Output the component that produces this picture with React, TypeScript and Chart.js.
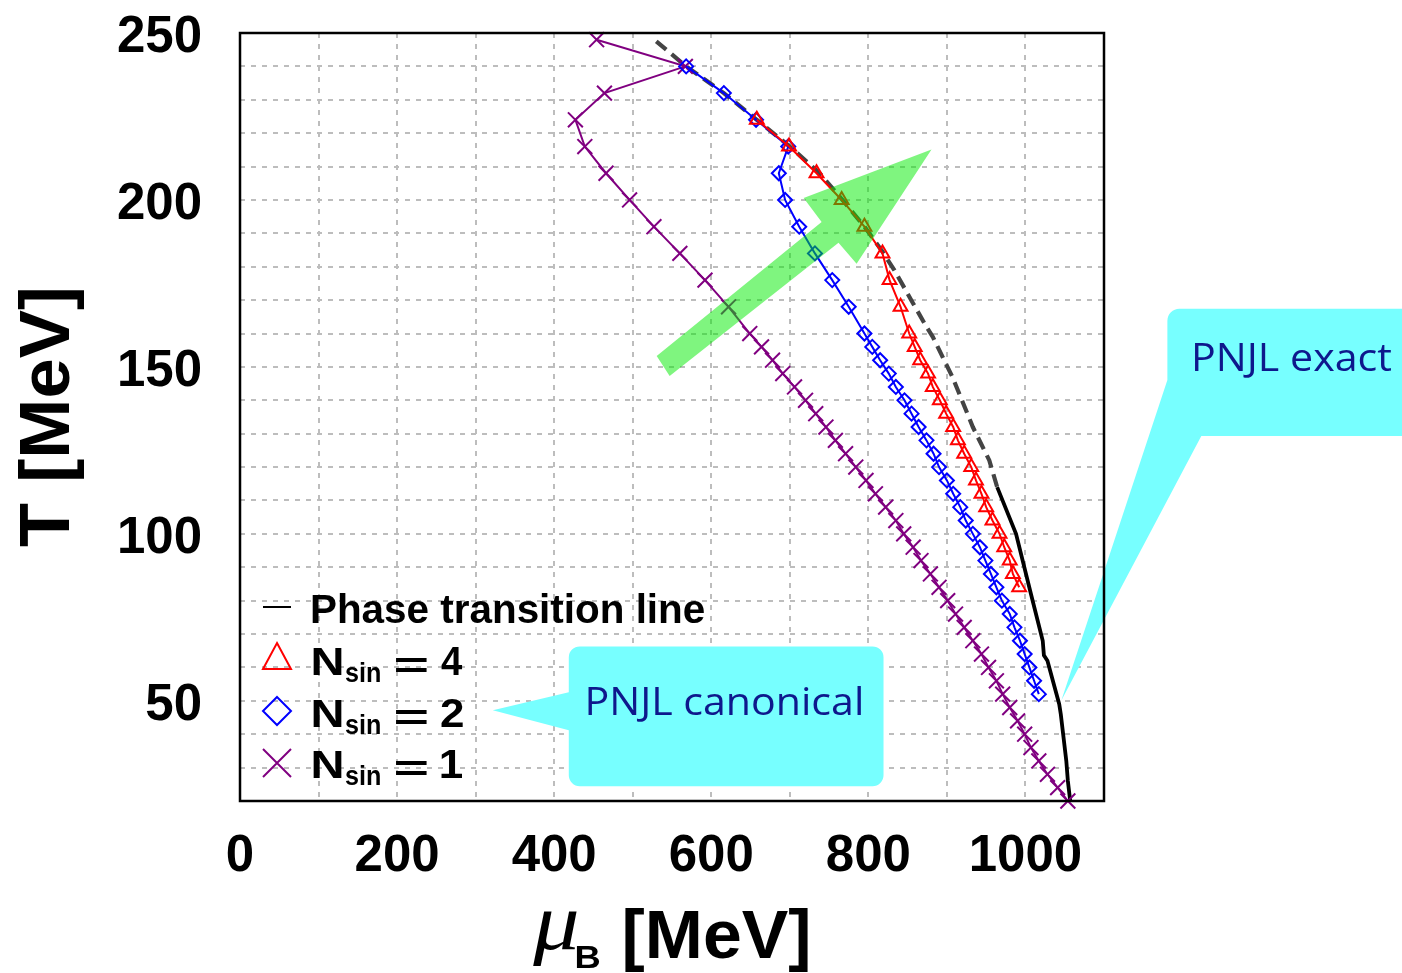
import React, { useEffect, useRef } from "react";
import { Chart, registerables } from "chart.js";
Chart.register(...registerables);

// ---------------- data ----------------
const nsin1T = [248, 240, 232, 224, 216, 208, 200, 192, 184, 176, 168, 160, 156, 152, 148, 144, 140, 136, 132, 128, 124, 120, 116, 112, 108, 104, 100, 96, 92, 88, 84, 80, 76, 72, 68, 64, 60, 56, 52, 48, 44, 40, 36, 32, 28, 24, 20];
const nsin1Mu = [454, 567, 464, 427, 439, 466, 496, 527, 560, 592, 622, 649, 664, 678, 691, 706, 720, 733, 746, 758, 771, 784, 797, 809, 822, 835, 845, 857, 867, 879, 890, 901, 911, 922, 933, 944, 953, 963, 971, 980, 990, 999, 1007, 1017, 1028, 1041, 1054];

const nsin2T = [240, 232, 224, 216, 208, 200, 192, 184, 176, 168, 160, 156, 152, 148, 144, 140, 136, 132, 128, 124, 120, 116, 112, 108, 104, 100, 96, 92, 88, 84, 80, 76, 72, 68, 64, 60, 56, 52];
const nsin2Mu = [568, 616, 657, 698, 686, 694, 712, 732, 754, 775, 795, 805, 815, 826, 835, 846, 855, 864, 874, 883, 890, 900, 908, 917, 924, 933, 942, 949, 956, 963, 970, 980, 986, 993, 999, 1005, 1011, 1017];

const nsin4T = [224, 216, 208, 200, 192, 184, 176, 168, 160, 156, 152, 148, 144, 140, 136, 132, 128, 124, 120, 116, 112, 108, 104, 100, 96, 92, 88, 84];
const nsin4Mu = [658, 699, 734, 766, 795, 818, 827, 841, 852, 859, 866, 876, 882, 891, 899, 908, 914, 922, 931, 937, 944, 950, 958, 967, 973, 980, 984, 992];

const phaseDashT = [247.5, 240, 232, 224, 216, 208, 200, 192, 184.5, 179, 169, 162, 159, 147, 132, 122, 114];
const phaseDashMu = [530, 568, 616, 658, 700, 738, 767, 795, 818, 833, 857, 874, 882, 907, 933, 954, 964];

const phaseSolidT = [114, 100, 82, 68, 63.6, 62, 49, 46, 40, 32, 26, 20];
const phaseSolidMu = [964, 988, 1007, 1022, 1023.5, 1028, 1043, 1045, 1048, 1052, 1054, 1057];

const xLabeledTicks = [0, 200, 400, 600, 800, 1000];
const yLabeledTicks = [50, 100, 150, 200, 250];

const legendMain = "Phase transition line";
const legendNsin = ["4", "2", "1"];
const calloutCanonical = "PNJL canonical";
const calloutExact = "PNJL exact";

// annotation geometry in data coordinates (mu_B, T)
const arrowMu = [530.5, 740.5, 717.6, 880.4, 785, 762, 547];
const arrowT = [153.3, 193.4, 200.6, 215.1, 180.9, 187.2, 147.3];

const SANS = '"Liberation Sans", Arial, sans-serif';
const CYAN = "#77ffff";
const NAVY = "rgb(14,24,140)";

function pts(mu: number[], t: number[]) {
  return mu.map((m, i) => ({ x: m, y: t[i] }));
}

function fitWidth(ctx: CanvasRenderingContext2D, text: string, font: string, left: number, right: number, baseline: number) {
  ctx.save();
  ctx.font = font;
  ctx.textAlign = "left";
  ctx.textBaseline = "alphabetic";
  const m = ctx.measureText(text);
  const vis = m.actualBoundingBoxLeft + m.actualBoundingBoxRight;
  const s = (right - left) / vis;
  ctx.translate(left + m.actualBoundingBoxLeft * s, baseline);
  ctx.scale(s, 1);
  ctx.fillText(text, 0, 0);
  ctx.restore();
}

function fitBox(ctx: CanvasRenderingContext2D, text: string, font: string, left: number, top: number, right: number, bottom: number) {
  ctx.save();
  ctx.font = font;
  ctx.textAlign = "left";
  ctx.textBaseline = "alphabetic";
  const m = ctx.measureText(text);
  const w = m.actualBoundingBoxLeft + m.actualBoundingBoxRight;
  const h = m.actualBoundingBoxAscent + m.actualBoundingBoxDescent;
  const sx = (right - left) / w;
  const sy = (bottom - top) / h;
  ctx.translate(left + m.actualBoundingBoxLeft * sx, top + m.actualBoundingBoxAscent * sy);
  ctx.scale(sx, sy);
  ctx.fillText(text, 0, 0);
  ctx.restore();
}

const annotations = {
  id: "annotations",
  afterDatasetsDraw(chart: any) {
    const ctx: CanvasRenderingContext2D = chart.ctx;
    const ca = chart.chartArea;
    const xs = chart.scales.x;
    const ys = chart.scales.y;
    const X = (m: number) => xs.getPixelForValue(m);
    const Y = (t: number) => ys.getPixelForValue(t);

    ctx.save();
    // green arrow
    ctx.beginPath();
    arrowMu.forEach((m, i) => {
      if (i === 0) ctx.moveTo(X(m), Y(arrowT[i]));
      else ctx.lineTo(X(m), Y(arrowT[i]));
    });
    ctx.closePath();
    ctx.fillStyle = "rgba(0,235,0,0.5)";
    ctx.fill();

    // callout: PNJL canonical
    {
      const L = X(418.6), R = X(819.3), T = Y(66.3), B = Y(24.4), r = 11;
      const pa = Y(52.6), pb = Y(41.2);
      const tipX = X(321.9), tipY = Y(47.2);
      ctx.beginPath();
      ctx.moveTo(L + r, T);
      ctx.lineTo(R - r, T);
      ctx.arcTo(R, T, R, T + r, r);
      ctx.lineTo(R, B - r);
      ctx.arcTo(R, B, R - r, B, r);
      ctx.lineTo(L + r, B);
      ctx.arcTo(L, B, L, B - r, r);
      ctx.lineTo(L, pb);
      ctx.lineTo(tipX, tipY);
      ctx.lineTo(L, pa);
      ctx.lineTo(L, T + r);
      ctx.arcTo(L, T, L + r, T, r);
      ctx.closePath();
      ctx.fillStyle = CYAN;
      ctx.fill();
      ctx.fillStyle = NAVY;
      fitWidth(ctx, calloutCanonical, '38px "Open Sans", sans-serif', X(442.7), X(791.2), Y(45.7));
    }
    // callout: PNJL exact
    {
      const L = X(1180.7), R = X(1501), T = Y(167.4), B = Y(129.3), r = 12;
      const pa = Y(146.1);
      const pbX = X(1223.9);
      const tipX = X(1045.8), tipY = Y(50.2);
      ctx.beginPath();
      ctx.moveTo(L, T + r);
      ctx.arcTo(L, T, L + r, T, r);
      ctx.lineTo(R, T);
      ctx.lineTo(R, B);
      ctx.lineTo(pbX, B);
      ctx.lineTo(tipX, tipY);
      ctx.lineTo(L, pa);
      ctx.closePath();
      ctx.fillStyle = CYAN;
      ctx.fill();
      ctx.fillStyle = NAVY;
      fitWidth(ctx, calloutExact, '38px "Open Sans", sans-serif', X(1215), X(1465.8), Y(148.8));
    }

    // legend
    const mx = ca.left + 37;
    const tx = ca.left + 72;
    const rows = [ca.bottom - 178, ca.bottom - 126, ca.bottom - 74, ca.bottom - 23];
    ctx.lineWidth = 2;
    // row 1: line
    ctx.strokeStyle = "#000";
    ctx.beginPath();
    ctx.moveTo(mx - 14, rows[0] - 16);
    ctx.lineTo(mx + 14, rows[0] - 16);
    ctx.stroke();
    // row 2: triangle
    ctx.strokeStyle = "#ff0000";
    ctx.beginPath();
    ctx.moveTo(mx, rows[1] - 32);
    ctx.lineTo(mx + 14, rows[1] - 6);
    ctx.lineTo(mx - 14, rows[1] - 6);
    ctx.closePath();
    ctx.stroke();
    // row 3: diamond
    ctx.strokeStyle = "#0000ff";
    ctx.beginPath();
    ctx.moveTo(mx, rows[2] - 30);
    ctx.lineTo(mx + 14, rows[2] - 16);
    ctx.lineTo(mx, rows[2] - 2);
    ctx.lineTo(mx - 14, rows[2] - 16);
    ctx.closePath();
    ctx.stroke();
    // row 4: cross
    ctx.strokeStyle = "#800080";
    ctx.beginPath();
    ctx.moveTo(mx - 14, rows[3] - 29);
    ctx.lineTo(mx + 14, rows[3] - 1);
    ctx.moveTo(mx - 14, rows[3] - 1);
    ctx.lineTo(mx + 14, rows[3] - 29);
    ctx.stroke();

    ctx.fillStyle = "#000";
    fitWidth(ctx, legendMain, `bold 40px ${SANS}`, tx, tx + 392, rows[0]);
    legendNsin.forEach((n, i) => {
      const b = rows[i + 1];
      fitWidth(ctx, "N", `bold 39px ${SANS}`, tx + 1, tx + 30, b);
      fitWidth(ctx, "sin", `bold 27px ${SANS}`, tx + 33, tx + 68, b + 7);
      fitBox(ctx, "=", `bold 40px ${SANS}`, tx + 83, b - 18, tx + 115, b - 3);
      fitWidth(ctx, n, `bold 40px ${SANS}`, tx + 129, tx + 151, b);
    });

    // full frame
    ctx.strokeStyle = "#000";
    ctx.lineWidth = 2.5;
    ctx.strokeRect(ca.left, ca.top, ca.right - ca.left, ca.bottom - ca.top);

    // axis titles
    ctx.fillStyle = "#000";
    // y title (rotated)
    ctx.save();
    ctx.translate(50, 418.5);
    ctx.rotate(-Math.PI / 2);
    fitBox(ctx, "T [MeV]", `bold 68px ${SANS}`, -128.5, -33, 128.5, 33);
    ctx.restore();
    // x title
    fitBox(ctx, "\u03bc", 'italic 78px "Liberation Serif", serif', 532, 912, 577, 967);
    fitBox(ctx, "B", `bold 30px ${SANS}`, 577, 947, 600, 968);
    fitBox(ctx, "[MeV]", `bold 60px ${SANS}`, 625, 910, 808, 972);

    ctx.restore();
  },
};

export default function App() {
  const ref = useRef<HTMLCanvasElement | null>(null);
  useEffect(() => {
    if (!ref.current) return;
    const chart = new Chart(ref.current, {
      type: "scatter",
      data: {
        datasets: [
          {
            label: "Nsin = 4",
            data: pts(nsin4Mu, nsin4T),
            showLine: true,
            borderColor: "#ff0000",
            backgroundColor: "rgba(0,0,0,0)",
            borderWidth: 2,
            pointStyle: "triangle",
            pointRadius: 8,
            pointBorderWidth: 2,
            pointBorderColor: "#ff0000",
            pointBackgroundColor: "rgba(0,0,0,0)",
            order: 0,
            clip: false,
          },
          {
            label: "Nsin = 2",
            data: pts(nsin2Mu, nsin2T),
            showLine: true,
            borderColor: "#0000ff",
            backgroundColor: "rgba(0,0,0,0)",
            borderWidth: 2,
            pointStyle: "rectRot",
            pointRadius: 7,
            pointBorderWidth: 2,
            pointBorderColor: "#0000ff",
            pointBackgroundColor: "rgba(0,0,0,0)",
            order: 1,
            clip: false,
          },
          {
            label: "Nsin = 1",
            data: pts(nsin1Mu, nsin1T),
            showLine: true,
            borderColor: "#800080",
            backgroundColor: "rgba(0,0,0,0)",
            borderWidth: 2,
            pointStyle: "crossRot",
            pointRadius: 10.5,
            pointBorderWidth: 2,
            pointBorderColor: "#800080",
            order: 2,
            clip: false,
          },
          {
            label: "Phase transition line",
            data: pts(phaseSolidMu, phaseSolidT),
            showLine: true,
            borderColor: "#000000",
            borderWidth: 3.8,
            pointRadius: 0,
            order: 3,
            clip: false,
          },
          {
            label: "Phase transition line (dashed)",
            data: pts(phaseDashMu, phaseDashT),
            showLine: true,
            borderColor: "#444444",
            borderWidth: 4.2,
            borderDash: [13, 7],
            pointRadius: 0,
            order: 4,
            clip: false,
          },
        ],
      },
      options: {
        animation: false,
        responsive: false,
        events: [],
        layout: { padding: { left: 0, top: 33, right: 298, bottom: 0 } },
        plugins: { legend: { display: false }, tooltip: { enabled: false } },
        elements: { line: { tension: 0 } },
        scales: {
          x: {
            type: "linear",
            min: 0,
            max: 1100,
            afterFit: (s: any) => {
              s.height = 172;
              s.paddingLeft = 0;
              s.paddingRight = 0;
              s.paddingTop = 0;
              s.paddingBottom = 0;
            },
            border: { display: false, dash: [5, 6] },
            grid: { color: "#bdbdbd", lineWidth: 2, drawTicks: false },
            ticks: {
              stepSize: 100,
              autoSkip: false,
              maxRotation: 0,
              padding: 25,
              color: "#000",
              font: { family: SANS, weight: "bold", size: 51 },
              callback: (v: any) => (xLabeledTicks.includes(Number(v)) ? String(v) : ""),
            },
          },
          y: {
            type: "linear",
            min: 20,
            max: 250,
            afterFit: (s: any) => {
              s.width = 240;
              s.paddingLeft = 0;
              s.paddingRight = 0;
              s.paddingTop = 0;
              s.paddingBottom = 0;
            },
            border: { display: false, dash: [5, 6] },
            grid: { color: "#bdbdbd", lineWidth: 2, drawTicks: false },
            ticks: {
              stepSize: 10,
              autoSkip: false,
              padding: 38,
              labelOffset: 5,
              color: "#000",
              font: { family: SANS, weight: "bold", size: 51 },
              callback: (v: any) => (yLabeledTicks.includes(Number(v)) ? String(v) : ""),
            },
          },
        },
      } as any,
      plugins: [annotations],
    });
    return () => chart.destroy();
  }, []);
  return (
    <div style={{ position: "fixed", left: 0, top: 0, width: 1402, height: 973, background: "#fff" }}>
      <canvas ref={ref} width={1402} height={973} />
    </div>
  );
}
